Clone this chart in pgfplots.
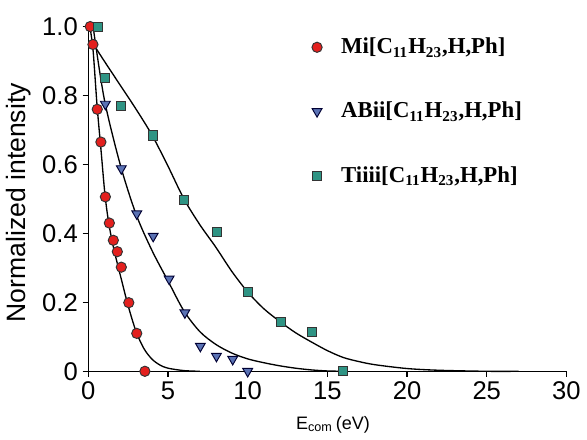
\documentclass[border=0pt]{standalone}
\usepackage{pgfplots}
\pgfplotsset{compat=1.18}
\usepackage{fontspec}
\setmainfont{Liberation Sans}
\newfontfamily\legfont{Liberation Serif}
\definecolor{mired}{HTML}{E3201E}
\definecolor{abblue}{HTML}{5A72B4}
\definecolor{titeal}{HTML}{2F9484}
\begin{document}
\begin{tikzpicture}
\begin{axis}[
    scale only axis,
    width=252pt, height=181.7pt,
    xmin=0, xmax=30, ymin=0, ymax=1,
    axis lines=left,
    axis line style={-, line width=0.8pt},
    xtick={0,5,...,30},
    ytick={0,0.2,0.4,0.6,0.8,1.0},
    yticklabels={0,0.2,0.4,0.6,0.8,1.0},
    tick align=outside,
    major tick length=3pt,
    tick style={black, line width=0.6pt},
    ticklabel style={font=\fontsize{13.5}{15}\selectfont},
    xticklabel style={yshift=1pt},
    yticklabel style={xshift=1pt},
    /pgf/number format/assume math mode=true,
    xlabel={E\textsubscript{com}\,(eV)},
    ylabel={Normalized intensity},
    label style={font=\fontsize{14}{16}\selectfont},
    xlabel style={yshift=-2pt, xshift=3pt, font=\fontsize{9.5}{11}\selectfont},
    ylabel style={yshift=-1pt, xshift=-2pt},
    clip=false,
    legend style={at={(0.455,0.99)}, anchor=north west, draw=none, fill=none,
        row sep=20pt, font=\legfont\bfseries\fontsize{12}{14}\selectfont,
        /tikz/every odd column/.append style={column sep=8pt}},
    legend cell align=left,
]
% fitted curves
\addplot[black, line width=0.7pt, smooth, forget plot] coordinates {
 (0.1,1.0) (0.3,0.93) (0.55,0.77) (0.8,0.64) (1.05,0.51) (1.3,0.425)
 (1.6,0.355) (2.0,0.28) (2.5,0.19) (3.0,0.115) (3.5,0.065) (4.0,0.035)
 (4.5,0.018) (5,0.009) (6,0.002) (7,0)};
\addplot[black, line width=0.7pt, smooth, forget plot] coordinates {
 (0.3,1.0) (1.0,0.79) (2.0,0.6) (3.0,0.455) (4.0,0.35) (5.0,0.262)
 (6.0,0.175) (7,0.115) (8,0.078) (9,0.053) (10,0.036) (11,0.025)
 (12,0.016) (13,0.009) (14,0.004) (15,0.001) (16,0)};
\addplot[black, line width=0.7pt, smooth, forget plot] coordinates {
 (0.3,0.95) (1,0.9) (2,0.83) (3,0.76) (4,0.685) (5,0.595) (6,0.5)
 (7,0.425) (8,0.36) (9,0.29) (10,0.23) (11,0.182) (12,0.145) (13,0.112)
 (14,0.085) (15,0.06) (16,0.04) (17,0.028) (18,0.019) (20,0.008)
 (22,0.003) (25,0) (27,0)};
% data
\addplot[only marks, mark=*, mark size=2.7pt,
    mark options={fill=mired, draw=black!80, line width=0.5pt}] coordinates {
 (0.12,1.0) (0.29,0.948) (0.56,0.76) (0.79,0.665) (1.07,0.506) (1.32,0.43)
 (1.57,0.38) (1.82,0.347) (2.07,0.302) (2.54,0.199) (3.04,0.11) (3.55,0.0)};
\addplot[only marks, mark=triangle*, mark size=3.0pt,
    mark options={rotate=180, fill=abblue, draw=black!80!blue, line width=0.5pt}] coordinates {
 (1.07,0.775) (2.07,0.588) (3.04,0.457) (4.07,0.392) (5.07,0.268) (6.06,0.17)
 (7.03,0.073) (8.04,0.044) (9.06,0.035) (10.0,0.0)};
\addplot[only marks, mark=square*, mark size=2.4pt,
    mark options={fill=titeal, draw=black!80, line width=0.5pt}] coordinates {
 (0.6,1.0) (1.07,0.85) (2.07,0.77) (4.07,0.684) (6.0,0.497) (8.06,0.403)
 (10.0,0.229) (12.09,0.144) (14.03,0.113) (16.0,0.0)};
\legend{{Mi[C\textsubscript{11}H\textsubscript{23},H,Ph]},
        {ABii[C\textsubscript{11}H\textsubscript{23},H,Ph]},
        {Tiiii[C\textsubscript{11}H\textsubscript{23},H,Ph]}}
\end{axis}
% white margin above the axis, as in the reference
\path (current axis.north) ++(0,14pt) coordinate (topmargin);
\end{tikzpicture}
\end{document}
